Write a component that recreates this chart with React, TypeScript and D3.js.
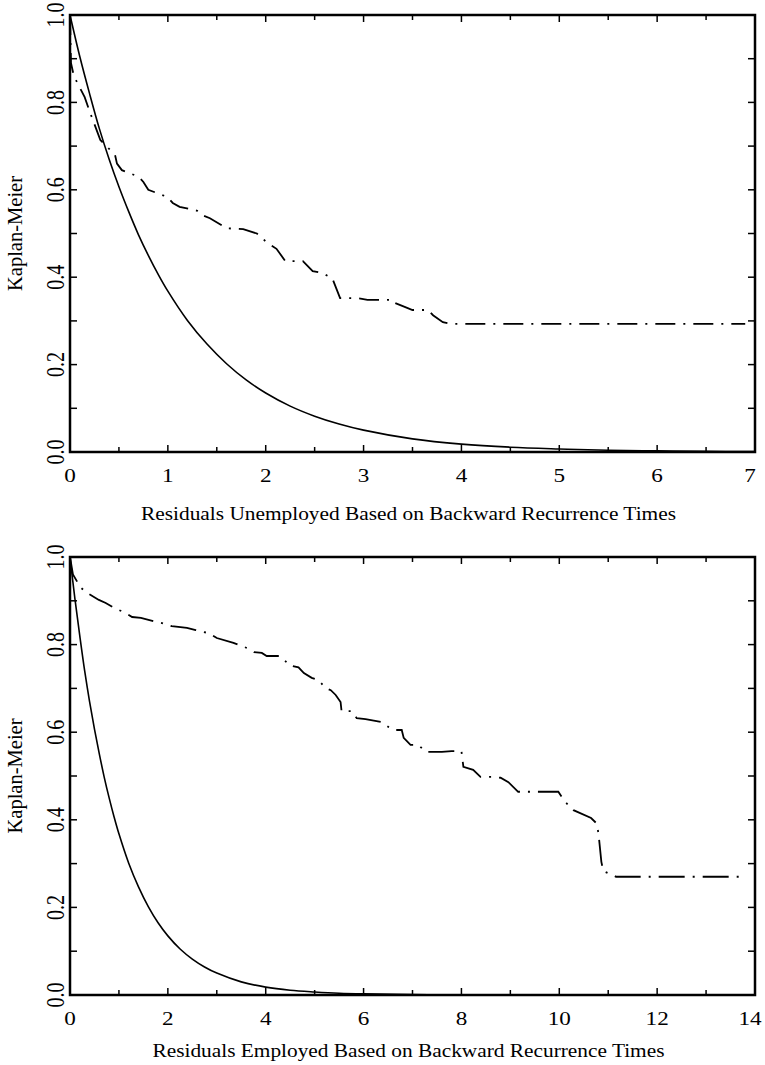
import * as d3 from "d3";

// top panel: unemployed
const unempFitX = [0, 0.1, 0.2, 0.3, 0.4, 0.5, 0.6, 0.7, 0.8, 0.9, 1, 1.2, 1.4, 1.6, 1.8, 2, 2.25, 2.5, 2.75, 3, 3.5, 4, 4.5, 5, 5.5, 6, 6.5, 7];
const unempFitY = [1, 0.905, 0.82, 0.74, 0.67, 0.607, 0.55, 0.497, 0.45, 0.407, 0.368, 0.301, 0.247, 0.202, 0.165, 0.135, 0.105, 0.082, 0.064, 0.05, 0.03, 0.018, 0.011, 0.007, 0.004, 0.0025, 0.0015, 0.001];
const unempKmX = [0, 0.01, 0.04, 0.15, 0.2, 0.26, 0.31, 0.46, 0.48, 0.53, 0.7, 0.75, 0.8, 0.99, 1.05, 1.12, 1.3, 1.35, 1.43, 1.6, 1.77, 1.91, 2.01, 2.11, 2.2, 2.38, 2.48, 2.57, 2.68, 2.72, 2.76, 2.94, 3.04, 3.3, 3.32, 3.42, 3.5, 3.66, 3.71, 3.81, 3.9, 6.9];
const unempKmY = [1, 0.89, 0.86, 0.812, 0.78, 0.744, 0.714, 0.68, 0.66, 0.645, 0.63, 0.618, 0.6, 0.584, 0.57, 0.561, 0.552, 0.542, 0.535, 0.512, 0.51, 0.5, 0.48, 0.465, 0.437, 0.437, 0.414, 0.41, 0.398, 0.375, 0.352, 0.352, 0.348, 0.348, 0.341, 0.332, 0.325, 0.325, 0.313, 0.297, 0.293, 0.293];

// bottom panel: employed
const empFitX = [0, 0.1, 0.2, 0.3, 0.4, 0.5, 0.6, 0.7, 0.8, 0.9, 1, 1.2, 1.4, 1.6, 1.8, 2, 2.25, 2.5, 2.75, 3, 3.5, 4, 4.5, 5, 5.5, 6, 7, 8, 10, 14];
const empFitY = [1, 0.905, 0.82, 0.74, 0.67, 0.607, 0.55, 0.497, 0.45, 0.407, 0.368, 0.301, 0.247, 0.202, 0.165, 0.135, 0.105, 0.082, 0.064, 0.05, 0.03, 0.018, 0.011, 0.007, 0.004, 0.0025, 0.001, 0.0004, 0.0001, 0];
const empKmX = [0.0, 0.06, 0.22, 0.35, 0.59, 0.73, 0.9, 1.14, 1.27, 1.45, 1.76, 1.88, 2.08, 2.39, 2.57, 2.84, 3.0, 3.34, 3.62, 3.76, 3.92, 4.02, 4.27, 4.37, 4.47, 4.67, 4.78, 4.94, 5.08, 5.22, 5.33, 5.43, 5.53, 5.55, 5.76, 5.86, 6.04, 6.37, 6.51, 6.61, 6.78, 6.82, 6.96, 7.12, 7.27, 7.6, 7.8, 8.0, 8.04, 8.24, 8.39, 8.61, 8.8, 8.96, 9.16, 9.98, 10.12, 10.29, 10.65, 10.76, 10.8, 10.86, 10.9, 11.16, 13.7];
const empKmY = [1.0, 0.96, 0.93, 0.918, 0.902, 0.895, 0.884, 0.872, 0.863, 0.861, 0.852, 0.849, 0.842, 0.838, 0.833, 0.826, 0.815, 0.804, 0.792, 0.783, 0.781, 0.774, 0.774, 0.767, 0.753, 0.748, 0.735, 0.724, 0.719, 0.701, 0.696, 0.685, 0.669, 0.648, 0.648, 0.632, 0.63, 0.623, 0.612, 0.605, 0.605, 0.587, 0.571, 0.571, 0.555, 0.555, 0.557, 0.557, 0.521, 0.514, 0.498, 0.498, 0.496, 0.486, 0.464, 0.464, 0.441, 0.422, 0.404, 0.392, 0.37, 0.304, 0.283, 0.27, 0.27];

const yTickLabels = ["0.0", "0.2", "0.4", "0.6", "0.8", "1.0"];
const unempXLabels = ["0", "1", "2", "3", "4", "5", "6", "7"];
const empXLabels = ["0", "2", "4", "6", "8", "10", "12", "14"];

const W = 765;
const H = 1065;
const FONT = "'Liberation Serif', 'Times New Roman', serif";
const SX = 1.22; // text appears horizontally stretched

type PanelProps = {
  top: number;
  bottom: number;
  xMax: number;
  minorStep: number;
  xLabels: string[];
  title: string;
  titleLen: number;
  titleGap: number;
  fitX: number[];
  fitY: number[];
  kmX: number[];
  kmY: number[];
  dash: string;
};

function Panel(p: PanelProps) {
  const left = 70;
  const right = 755;
  const x = d3.scaleLinear().domain([0, p.xMax]).range([left, right]);
  const y = d3.scaleLinear().domain([0, 1]).range([p.bottom, p.top]);

  const fitLine = d3
    .line<number>()
    .x((d) => x(d))
    .y((_, i) => y(p.fitY[i]))
    .curve(d3.curveCatmullRom.alpha(0.5));
  const kmLine = d3
    .line<number>()
    .x((d) => x(d))
    .y((_, i) => y(p.kmY[i]));

  const xTicks = d3.range(0, p.xMax + 1e-9, p.minorStep);
  const yTicks = d3.range(0, 1.0001, 0.1);
  const isMajorX = (v: number) => p.xLabels.includes(String(Math.round(v * 100) / 100));

  return (
    <g>
      <path d={fitLine(p.fitX) || ""} fill="none" stroke="#000" strokeWidth={1.6} />
      <path
        d={kmLine(p.kmX) || ""}
        fill="none"
        stroke="#000"
        strokeWidth={1.8}
        strokeDasharray={p.dash}
      />
      {xTicks.map((v, i) => {
        const len = isMajorX(v) ? 7 : 5;
        return (
          <g key={"xt" + i}>
            <line x1={x(v)} x2={x(v)} y1={p.bottom} y2={p.bottom - len} stroke="#000" strokeWidth={1.5} />
            <line x1={x(v)} x2={x(v)} y1={p.top} y2={p.top + len} stroke="#000" strokeWidth={1.5} />
          </g>
        );
      })}
      {yTicks.map((v, i) => (
        <g key={"yt" + i}>
          <line x1={left} x2={left + 7} y1={y(v)} y2={y(v)} stroke="#000" strokeWidth={1.5} />
          <line x1={right} x2={right - 7} y1={y(v)} y2={y(v)} stroke="#000" strokeWidth={1.5} />
        </g>
      ))}
      <rect
        x={left}
        y={p.top}
        width={right - left}
        height={p.bottom - p.top}
        fill="none"
        stroke="#000"
        strokeWidth={2.5}
      />
      {p.xLabels.map((t) => (
        <text
          key={"xl" + t}
          transform={`translate(${Math.min(x(+t), 750)},${p.bottom + 30}) scale(${SX},1)`}
          textAnchor="middle"
          fontFamily={FONT}
          fontSize={19}
        >
          {t}
        </text>
      ))}
      {yTickLabels.map((t) => (
        <text
          key={"yl" + t}
          transform={`translate(64,${y(+t)}) scale(${SX},1) rotate(-90)`}
          textAnchor="middle"
          fontFamily={FONT}
          fontSize={20}
        >
          {t}
        </text>
      ))}
      <text
        transform={`translate(22,${(p.top + p.bottom) / 2}) scale(${SX},1) rotate(-90)`}
        textAnchor="middle"
        fontFamily={FONT}
        fontSize={18}
        textLength={115}
        lengthAdjust="spacingAndGlyphs"
      >
        Kaplan-Meier
      </text>
      <text
        x={(left + right) / 2 - 4}
        y={p.bottom + p.titleGap}
        textAnchor="middle"
        fontFamily={FONT}
        fontSize={19}
        textLength={p.titleLen}
        lengthAdjust="spacingAndGlyphs"
      >
        {p.title}
      </text>
    </g>
  );
}

export default function App() {
  return (
    <svg
      width={W}
      height={H}
      viewBox={`0 0 ${W} ${H}`}
      style={{ position: "absolute", left: 0, top: 0, background: "#fff" }}
    >
      <rect width={W} height={H} fill="#fff" />
      <Panel
        top={15}
        bottom={452}
        xMax={7}
        minorStep={0.5}
        xLabels={unempXLabels}
        title="Residuals Unemployed Based on Backward Recurrence Times"
        titleLen={535}
        titleGap={68}
        fitX={unempFitX}
        fitY={unempFitY}
        kmX={unempKmX}
        kmY={unempKmY}
        dash="20,8,2,8"
      />
      <Panel
        top={557}
        bottom={995}
        xMax={14}
        minorStep={1}
        xLabels={empXLabels}
        title="Residuals Employed Based on Backward Recurrence Times"
        titleLen={512}
        titleGap={62}
        fitX={empFitX}
        fitY={empFitY}
        kmX={empKmX}
        kmY={empKmY}
        dash="26,8,2,8"
      />
    </svg>
  );
}
